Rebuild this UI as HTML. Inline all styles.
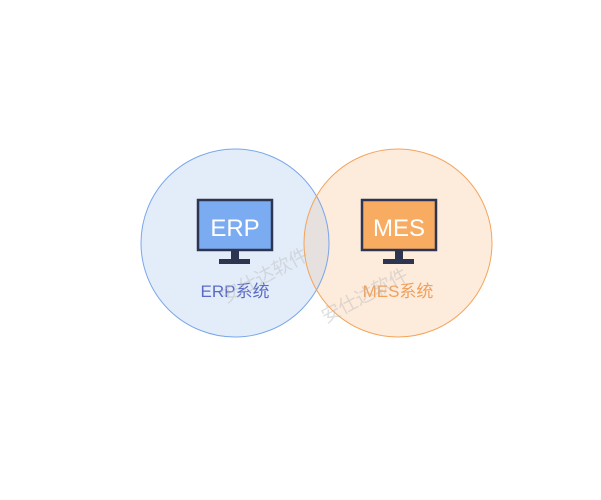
<!DOCTYPE html>
<html><head><meta charset="utf-8"><style>
html,body{margin:0;padding:0;background:#fff;}
</style></head><body>
<svg width="601" height="500" xmlns="http://www.w3.org/2000/svg" style="display:block">
<circle cx="235" cy="243" r="94" fill="#e3edfa"/>
<circle cx="398" cy="243" r="94" fill="#fdebdc"/>
<path d="M316.5 195 A94 94 0 0 1 316.5 291 A94 94 0 0 1 316.5 195Z" fill="#e6e0de"/>
<circle cx="235" cy="243" r="94" fill="none" stroke="#7aa7ea" stroke-width="1"/>
<circle cx="398" cy="243" r="94" fill="none" stroke="#f4a55c" stroke-width="1"/>
<g font-family="'Liberation Sans','Noto Sans CJK SC',sans-serif">
<rect x="198" y="200" width="74" height="50" fill="#7bacf2" stroke="#2e3550" stroke-width="2.5"/>
<rect x="231" y="251" width="8" height="9" fill="#2e3550"/>
<rect x="219" y="259" width="31" height="5" fill="#2e3550"/>
<text x="235" y="236" font-size="24" fill="#fff" text-anchor="middle">ERP</text>
<rect x="362" y="200" width="74" height="50" fill="#f7ac62" stroke="#2e3550" stroke-width="2.5"/>
<rect x="395" y="251" width="8" height="9" fill="#2e3550"/>
<rect x="383" y="259" width="31" height="5" fill="#2e3550"/>
<text x="399" y="236" font-size="24" fill="#fff" text-anchor="middle">MES</text>
<text x="235" y="297" font-size="17" fill="#5a6bc6" text-anchor="middle">ERP系统</text>
<text x="398" y="297" font-size="17" fill="#f1a05a" text-anchor="middle">MES系统</text>
<text x="265" y="282" font-size="19" fill="#bbbbbb" fill-opacity="0.45" text-anchor="middle" transform="rotate(-28 265 276)">安仕达软件</text>
<text x="365" y="302" font-size="19" fill="#bbbbbb" fill-opacity="0.45" text-anchor="middle" transform="rotate(-28 365 296)">安仕达软件</text>
</g>
</svg>
</body></html>
